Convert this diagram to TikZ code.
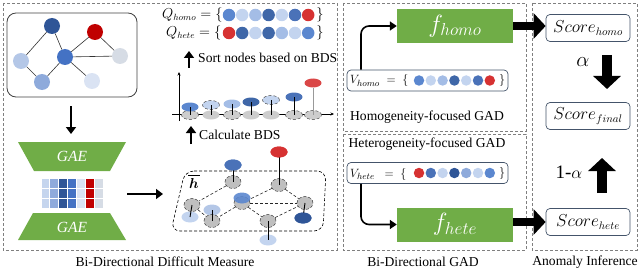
\documentclass[tikz,border=0pt]{standalone}
\usepackage{amsmath}
\usepackage{fontspec}
\setmainfont{Liberation Serif}
\usetikzlibrary{arrows.meta,shapes.geometric,calc}

\definecolor{gr}{HTML}{70AD47}
\definecolor{bdark}{HTML}{2F5597}
\definecolor{bmed}{HTML}{4472C4}
\definecolor{bq}{HTML}{5B87CF}
\definecolor{blt}{HTML}{C3D4EF}
\definecolor{bml}{HTML}{A4BDE6}
\definecolor{bdk}{HTML}{3F67A8}
\definecolor{bdkk}{HTML}{4A72B8}
\definecolor{rd}{HTML}{D63232}
\definecolor{rdk}{HTML}{C00000}
\definecolor{gnode}{HTML}{BFBFBF}
\definecolor{gbase}{HTML}{CDCDCD}
\definecolor{boxline}{HTML}{44546A}
\definecolor{panelc}{HTML}{7F7F7F}
\definecolor{nlt}{HTML}{B4C7E7}
\definecolor{ngr}{HTML}{D6DCE5}
\definecolor{nmd}{HTML}{8EAADB}
\definecolor{nvl}{HTML}{DAE3F3}

\begin{document}
\begin{tikzpicture}[x=1pt,y=-1pt,
 panel/.style={draw=panelc, dash pattern=on 3pt off 2pt, line width=0.9pt},
 lbl/.style={font=\fontsize{13.6}{15}\selectfont, inner sep=0pt},
 blk/.style={line width=2.2pt, -{Triangle[length=7pt,width=10pt]}},
 fath/.style={line width=8pt, -{Triangle[length=12pt,width=25pt]}},
 fatv/.style={line width=10pt, -{Triangle[length=13pt,width=27pt]}},
 gnd/.style={circle, minimum size=16pt, inner sep=0pt},
 qdot/.style={circle, minimum size=12.5pt, inner sep=0pt},
 vdot/.style={circle, minimum size=10.5pt, inner sep=0pt},
 ell/.style={ellipse, minimum width=17pt, minimum height=9pt, inner sep=0pt},
 hnode/.style={ellipse, minimum width=16pt, minimum height=13pt, inner sep=0pt, fill=gnode, draw=black!75, densely dashed, line width=0.5pt},
 hcol/.style={ellipse, minimum width=17pt, minimum height=11pt, inner sep=0pt},
 fbox/.style={rectangle, fill=gr, minimum width=116pt, minimum height=34pt, inner sep=0pt, text=white, font=\fontsize{24}{26}\selectfont},
 sbox/.style={rectangle, rounded corners=4pt, draw=boxline, line width=0.7pt, fill=white, minimum width=84pt, minimum height=27pt, inner sep=0pt, font=\fontsize{16}{17}\selectfont},
 vbox/.style={rectangle, rounded corners=4pt, draw=boxline, line width=0.7pt, minimum width=161pt, minimum height=21pt, inner sep=0pt},
 gaet/.style={text=white, font=\fontsize{15.5}{16}\selectfont\itshape, inner sep=0pt},
 txt/.style={font=\fontsize{13.6}{15}\selectfont, inner sep=0pt, anchor=west},
 mtxt/.style={font=\fontsize{13.5}{15}\selectfont, inner sep=0pt},
 vtxt/.style={font=\fontsize{13}{15}\selectfont, inner sep=0pt},
]
\useasboundingbox (0,0) rectangle (640,270);

% ---------- panels ----------
\draw[panel] (3,3) rectangle (337,250);
\draw[panel] (343,3) rectangle (526,131);
\draw[panel] (343,134) rectangle (526,250);
\draw[panel] (532,3) rectangle (637,250);
\node[lbl] (l1) at (165,262) {Bi-Directional Difficult Measure};
\node[lbl] (l2) at (423,262) {Bi-Directional GAD};
\node[lbl] (l3) at (585,262) {Anomaly Inference};

% ---------- input graph ----------
\node[draw=black!75, line width=0.8pt, rounded corners=9pt, minimum width=130pt, minimum height=84pt] (gbox) at (72,55) {};
\node[gnd, fill=bdark] (n1) at (52,26) {};
\node[gnd, fill=rdk] (n2) at (95,32) {};
\node[gnd, fill=nlt] (n3) at (21,61) {};
\node[gnd, fill=bmed] (n4) at (65,57) {};
\node[gnd, fill=ngr] (n5) at (120,56) {};
\node[gnd, fill=nmd] (n6) at (42,82) {};
\node[gnd, fill=nvl] (n7) at (92,81) {};
\foreach \a/\b in {n3/n1, n1/n4, n3/n6, n6/n4, n4/n2, n4/n5, n2/n5, n4/n7}
  \draw[black!80, line width=0.6pt] (\a) -- (\b);

\coordinate (d1s) at (71,106);
\coordinate (d1e) at (71,134);
\draw[blk] (d1s) -- (d1e);

% ---------- GAE ----------
\fill[gr] (18,142) -- (126,142) -- (110,171) -- (34,171) -- cycle;
\node[gaet] (gae1) at (72,156) {GAE};
\fill[gr] (33,213) -- (110,213) -- (126,240) -- (18,240) -- cycle;
\node[gaet] (gae2) at (72,227) {GAE};
\foreach \c [count=\i from 0] in {C5D5EE,8FAADC,2F5597,4472C4,DAE3F3,C00000,D6DCE5} {
  \definecolor{tmpc}{HTML}{\c}
  \foreach \r in {0,1,2}
    \draw[fill=tmpc, draw=white, line width=0.8pt] (41+\i*8.857,178+\r*10) rectangle ++(8.857,10);
}
\coordinate (m1s) at (127,194);
\coordinate (m1e) at (163,194);
\draw[blk] (m1s) -- (m1e);

% ---------- Q rows ----------
\node[mtxt, anchor=west] (qhl) at (162,15) {$Q_{homo} = \{$};
\foreach \c [count=\i from 0] in {bq,blt,bml,bdk,blt,bdkk,rd}
  \node[qdot, fill=\c] (qh\i) at (229+\i*13.2,15) {};
\node[mtxt] (qhr) at (320,15) {$\}$};
\node[mtxt, anchor=west] (qel) at (166,33) {$Q_{hete} = \{$};
\foreach \c [count=\i from 0] in {rd,bdk,blt,bdk,bml,blt,bq}
  \node[qdot, fill=\c] (qe\i) at (229+\i*13.2,33) {};
\node[mtxt] (qer) at (320,33) {$\}$};

\coordinate (s1s) at (189,68);
\coordinate (s1e) at (189,51);
\draw[blk] (s1s) -- (s1e);
\node[txt] (sorttxt) at (198,58) {Sort nodes based on BDS};

% ---------- BDS chart ----------
\coordinate (ya0) at (179,121);
\coordinate (ya1) at (179,72);
\draw[line width=0.7pt, -{Stealth[length=3.5pt,width=3pt]}] (ya0) -- (ya1);
\coordinate (xa0) at (172,114);
\coordinate (xa1) at (334,114);
\draw[line width=0.7pt, -{Stealth[length=3.5pt,width=3pt]}] (xa0) -- (xa1);
\foreach \x/\s [count=\i] in {190/1,211/0,232/1,251/0,271/0,294/1,313/1} {
  \ifnum\s=1
    \node[ell, fill=gbase, draw=black!70, densely dashed, line width=0.5pt] (b\i) at (\x,115) {};
  \else
    \node[ell, fill=gbase] (b\i) at (\x,115) {};
  \fi
}
\foreach \x/\y/\c/\s [count=\i] in {190/107/bq/0,211/105/blt/1,232/104/bml/0,251/102/bdk/0,271/100/blt/1,294/97/bdkk/0} {
  \ifnum\s=1
    \node[ell, fill=\c, draw=black!70, densely dashed, line width=0.5pt] (c\i) at (\x,\y) {};
  \else
    \node[ell, fill=\c] (c\i) at (\x,\y) {};
  \fi
  \draw[line width=0.8pt] (c\i.center) -- (b\i.center);
}
\node[ell, fill=rd!90] (c7) at (313,83) {};
\draw[line width=0.8pt, black!40] (c7.south) -- (b7.center);

\coordinate (k1s) at (191,144);
\coordinate (k1e) at (191,126);
\draw[blk] (k1s) -- (k1e);
\node[txt] (calctxt) at (199,135) {Calculate BDS};

% ---------- h graph ----------
\draw[densely dashed, line width=0.6pt, rounded corners=9pt] (185,171) -- (326,171) -- (323,231) -- (171,231) -- cycle;
\node[font=\fontsize{15}{16}\selectfont, inner sep=0pt] (hbar) at (194,183) {$\boldsymbol{h}$};
\draw[line width=0.7pt] ([xshift=-0.5pt,yshift=2pt]hbar.north west) -- ([xshift=0.5pt,yshift=2pt]hbar.north east);
\node[hcol, fill=blt] (hd) at (190,217) {};
\node[hcol, fill=nlt] (hf) at (212,210) {};
\node[hcol, fill=blt] (hg) at (268,240) {};
\node[hnode] (ha) at (233,182) {};
\node[hnode] (hb) at (279,185) {};
\node[hnode] (hc) at (242,203) {};
\node[hnode] (hdn) at (192,205) {};
\node[hnode] (he) at (305,203) {};
\node[hnode] (hfn) at (212,221) {};
\node[hnode] (hgn) at (268,221) {};
\foreach \a/\b in {ha/hdn, hb/hc, hc/he, hb/he, hc/hfn, hc/hgn, hdn/hfn, hgn/he}
  \draw[densely dashed, line width=0.6pt, black!85] (\a) -- (\b);
\node[hcol, fill=bdkk] (hac) at (233,165) {};
\node[hcol, fill=rd] (hbc) at (279,152) {};
\node[hcol, fill=bdk] (hec) at (303,218) {};
\foreach \a/\b in {ha/hac, hb/hbc, hdn/hd, hfn/hf, hgn/hg, he/hec}
  \draw[line width=0.9pt] (\a.center) -- (\b.center);
\node[hcol, fill=bdkk] (hac2) at (233,165) {};
\node[hcol, fill=rd] (hbc2) at (279,152) {};
\node[hcol, fill=bq, opacity=0.9] (hcc) at (242,198) {};
\node[hcol, fill=bdark] (hec2) at (303,218) {};

% ---------- GAD panel ----------
\node[fbox] (fhomo) at (455,26) {$f_{homo}$};
\node[fbox] (fhete) at (455,224.5) {$f_{hete}$};
\node[vbox] (vhomo) at (427.5,80.5) {};
\node[vbox] (vhete) at (427.5,173) {};
\node[vtxt, anchor=west] (vhl) at (350,81) {$V_{homo}\ =\ \{$};
\foreach \c [count=\i from 0] in {bq,blt,bml,bdk,blt,bdkk,rd}
  \node[vdot, fill=\c] (vh\i) at (419+\i*11.8,80.5) {};
\node[vtxt] (vhr) at (502,80.5) {$\}$};
\node[vtxt, anchor=west] (vel) at (350,174) {$V_{hete}\ \ =\ \{$};
\foreach \c [count=\i from 0] in {rd,bdkk,blt,bdark,nmd,blt,bq}
  \node[vdot, fill=\c] (ve\i) at (419+\i*11.8,173) {};
\node[vtxt] (ver) at (502,173) {$\}$};
\draw[line width=1.6pt, rounded corners=8pt, -{Triangle[length=7pt,width=9pt]}] (vhomo.north -| 361,0) -- (361,26) -- (fhomo.west);
\draw[line width=1.6pt, rounded corners=8pt, -{Triangle[length=7pt,width=9pt]}] (vhete.south -| 361,0) -- (361,224.5) -- (fhete.west);
\node[lbl] (homolbl) at (427,117) {Homogeneity-focused GAD};
\node[lbl] (hetelbl) at (427,144) {Heterogeneity-focused GAD};

% ---------- inference panel ----------
\node[sbox] (shomo) at (588,28) {$Score_{homo}$};
\node[sbox] (sfinal) at (588,116) {$Score_{final}$};
\node[sbox] (shete) at (588,222) {$Score_{hete}$};
\draw[fath] (fhomo.east) -- (shomo.west |- fhomo.east);
\draw[fath] (fhete.east |- shete.west) -- (shete.west);
\coordinate (dA) at (607,55);
\coordinate (dB) at (607,89);
\draw[fatv] (dA) -- (dB);
\coordinate (uA) at (602,193);
\coordinate (uB) at (602,158);
\draw[fatv] (uA) -- (uB);
\node[font=\fontsize{21}{22}\selectfont, inner sep=0pt] (alph) at (583,62) {$\alpha$};
\node[font=\fontsize{19}{22}\selectfont, inner sep=0pt] (malph) at (569,172) {1-$\alpha$};
\end{tikzpicture}
\end{document}
